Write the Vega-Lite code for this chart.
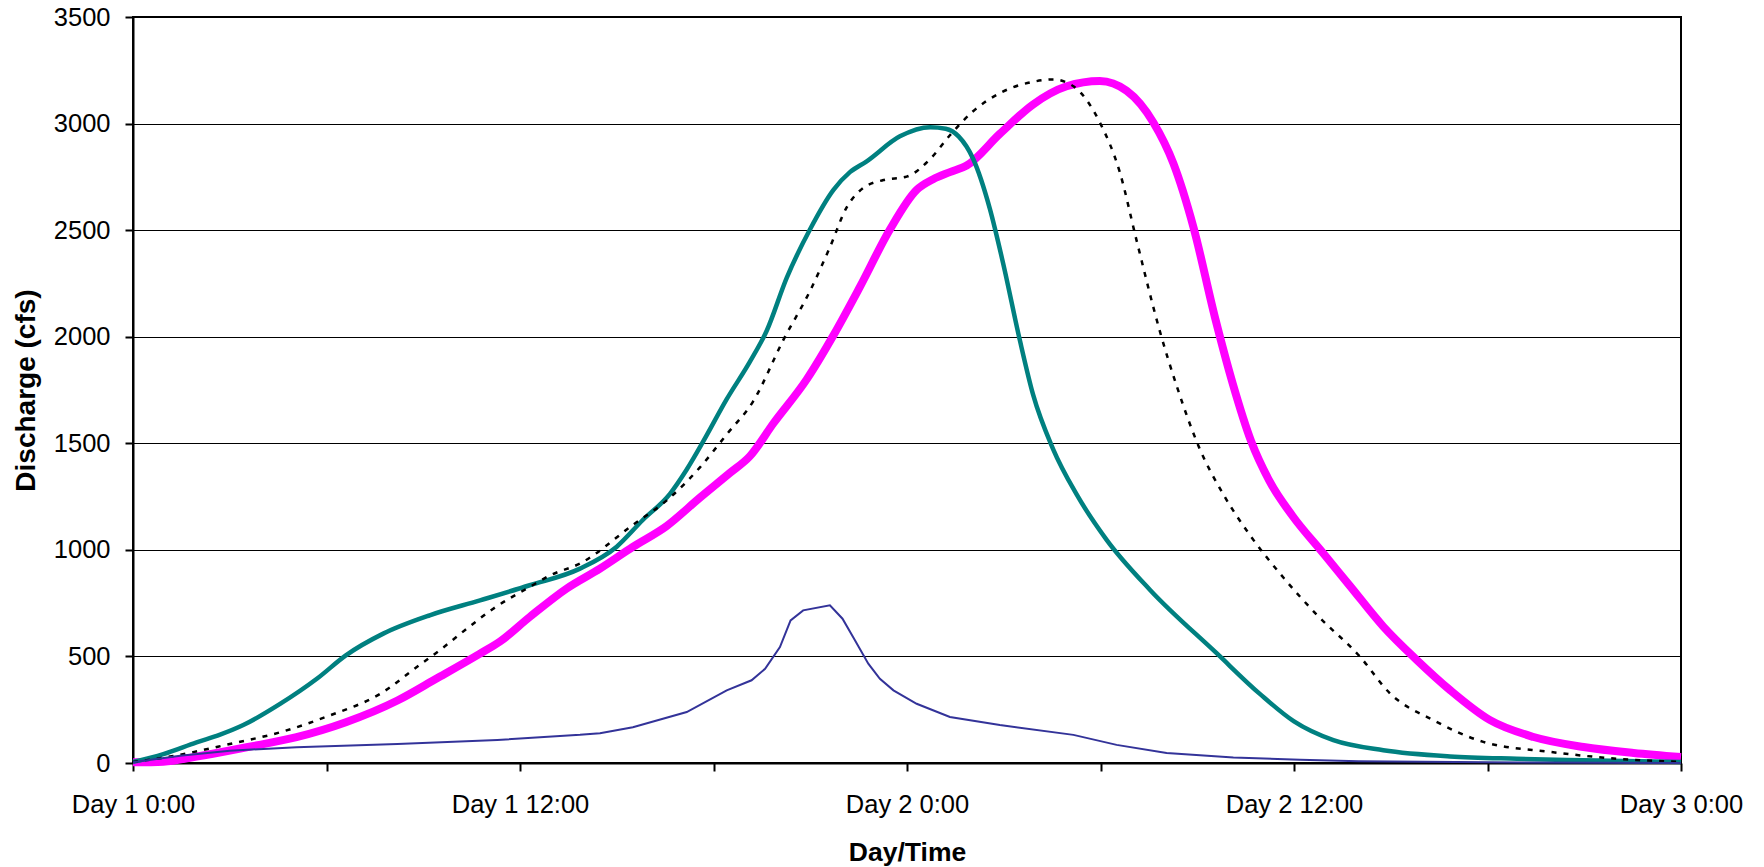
{
  "$schema": "https://vega.github.io/schema/vega-lite/v6.json",
  "width": 1548,
  "height": 746,
  "autosize": "none",
  "padding": {"left": 133, "top": 17, "right": 83, "bottom": 104},
  "background": "white",
  "config": {
    "view": {"stroke": "black", "strokeWidth": 2},
    "axis": {
      "labelFont": "Liberation Sans", "titleFont": "Liberation Sans",
      "labelFontSize": 25.5, "titleFontSize": 26.5, "labelColor": "black", "titleColor": "black",
      "domainColor": "black", "domainWidth": 2, "tickColor": "black", "tickWidth": 2, "tickSize": 8,
      "gridColor": "black", "gridWidth": 1, "gridOpacity": 1
    }
  },
  "datasets": {
    "flows": [
      {"s": "S1", "h": 0, "q": 5}, {"s": "S1", "h": 0.94, "q": 42}, {"s": "S1", "h": 1.97, "q": 97}, {"s": "S1", "h": 2.7, "q": 133}, {"s": "S1", "h": 3.42, "q": 178},
      {"s": "S1", "h": 4.56, "q": 277}, {"s": "S1", "h": 5.7, "q": 395}, {"s": "S1", "h": 6.6, "q": 505}, {"s": "S1", "h": 7.76, "q": 607},
      {"s": "S1", "h": 9.2, "q": 693}, {"s": "S1", "h": 10.76, "q": 763}, {"s": "S1", "h": 12.3, "q": 834}, {"s": "S1", "h": 13.86, "q": 912},
      {"s": "S1", "h": 15.0, "q": 1015}, {"s": "S1", "h": 15.8, "q": 1139}, {"s": "S1", "h": 16.65, "q": 1263}, {"s": "S1", "h": 17.17, "q": 1377},
      {"s": "S1", "h": 17.69, "q": 1511}, {"s": "S1", "h": 18.41, "q": 1707}, {"s": "S1", "h": 19.13, "q": 1883}, {"s": "S1", "h": 19.65, "q": 2028},
      {"s": "S1", "h": 20.27, "q": 2276}, {"s": "S1", "h": 20.99, "q": 2503}, {"s": "S1", "h": 21.72, "q": 2689}, {"s": "S1", "h": 22.23, "q": 2772},
      {"s": "S1", "h": 22.75, "q": 2823}, {"s": "S1", "h": 23.78, "q": 2940}, {"s": "S1", "h": 24.72, "q": 2983}, {"s": "S1", "h": 25.2, "q": 2976},
      {"s": "S1", "h": 25.6, "q": 2940}, {"s": "S1", "h": 26.05, "q": 2835}, {"s": "S1", "h": 26.57, "q": 2600}, {"s": "S1", "h": 26.98, "q": 2345}, {"s": "S1", "h": 27.5, "q": 1983},
      {"s": "S1", "h": 27.91, "q": 1728}, {"s": "S1", "h": 28.53, "q": 1473}, {"s": "S1", "h": 29.26, "q": 1260}, {"s": "S1", "h": 30.19, "q": 1047},
      {"s": "S1", "h": 31.53, "q": 813}, {"s": "S1", "h": 33.6, "q": 515}, {"s": "S1", "h": 34.95, "q": 323}, {"s": "S1", "h": 36.0, "q": 195},
      {"s": "S1", "h": 37.22, "q": 107}, {"s": "S1", "h": 38.77, "q": 60}, {"s": "S1", "h": 40.84, "q": 31}, {"s": "S1", "h": 42.91, "q": 20},
      {"s": "S1", "h": 44.98, "q": 13}, {"s": "S1", "h": 48, "q": 5},

      {"s": "S2", "h": 0, "q": 5}, {"s": "S2", "h": 1.15, "q": 30}, {"s": "S2", "h": 3.0, "q": 89}, {"s": "S2", "h": 4.56, "q": 144},
      {"s": "S2", "h": 6.1, "q": 223}, {"s": "S2", "h": 7.66, "q": 324}, {"s": "S2", "h": 8.8, "q": 450}, {"s": "S2", "h": 9.57, "q": 536},
      {"s": "S2", "h": 10.35, "q": 630}, {"s": "S2", "h": 11.17, "q": 724}, {"s": "S2", "h": 12.3, "q": 826}, {"s": "S2", "h": 12.93, "q": 880},
      {"s": "S2", "h": 13.86, "q": 936}, {"s": "S2", "h": 15.51, "q": 1118}, {"s": "S2", "h": 16.55, "q": 1232}, {"s": "S2", "h": 17.58, "q": 1387},
      {"s": "S2", "h": 18.41, "q": 1542}, {"s": "S2", "h": 19.23, "q": 1697}, {"s": "S2", "h": 20.17, "q": 1986}, {"s": "S2", "h": 20.99, "q": 2214},
      {"s": "S2", "h": 21.61, "q": 2420}, {"s": "S2", "h": 22.13, "q": 2607}, {"s": "S2", "h": 22.65, "q": 2699}, {"s": "S2", "h": 23.27, "q": 2735},
      {"s": "S2", "h": 23.99, "q": 2751}, {"s": "S2", "h": 24.72, "q": 2834}, {"s": "S2", "h": 25.33, "q": 2945}, {"s": "S2", "h": 26.05, "q": 3058},
      {"s": "S2", "h": 26.88, "q": 3143}, {"s": "S2", "h": 27.91, "q": 3196}, {"s": "S2", "h": 28.53, "q": 3207}, {"s": "S2", "h": 29.16, "q": 3175},
      {"s": "S2", "h": 29.98, "q": 3005}, {"s": "S2", "h": 30.6, "q": 2771}, {"s": "S2", "h": 31.12, "q": 2451}, {"s": "S2", "h": 31.84, "q": 2026},
      {"s": "S2", "h": 32.36, "q": 1770}, {"s": "S2", "h": 33.08, "q": 1473}, {"s": "S2", "h": 33.81, "q": 1260}, {"s": "S2", "h": 34.64, "q": 1068},
      {"s": "S2", "h": 35.67, "q": 870}, {"s": "S2", "h": 36.71, "q": 695}, {"s": "S2", "h": 38.05, "q": 498}, {"s": "S2", "h": 38.98, "q": 326},
      {"s": "S2", "h": 40.32, "q": 201}, {"s": "S2", "h": 41.87, "q": 99}, {"s": "S2", "h": 43.95, "q": 52}, {"s": "S2", "h": 46.01, "q": 20},
      {"s": "S2", "h": 48, "q": 5},

      {"s": "S3", "h": 0, "q": 3}, {"s": "S3", "h": 0.94, "q": 6}, {"s": "S3", "h": 1.97, "q": 30}, {"s": "S3", "h": 3.52, "q": 74},
      {"s": "S3", "h": 5.07, "q": 121}, {"s": "S3", "h": 6.6, "q": 191}, {"s": "S3", "h": 8.2, "q": 293}, {"s": "S3", "h": 9.4, "q": 395},
      {"s": "S3", "h": 10.76, "q": 513}, {"s": "S3", "h": 11.38, "q": 570}, {"s": "S3", "h": 12.3, "q": 685}, {"s": "S3", "h": 13.45, "q": 819},
      {"s": "S3", "h": 14.48, "q": 912}, {"s": "S3", "h": 15.51, "q": 1015}, {"s": "S3", "h": 16.55, "q": 1112}, {"s": "S3", "h": 17.58, "q": 1245},
      {"s": "S3", "h": 18.5, "q": 1360}, {"s": "S3", "h": 19.13, "q": 1440}, {"s": "S3", "h": 19.86, "q": 1594}, {"s": "S3", "h": 20.89, "q": 1800}, {"s": "S3", "h": 21.72, "q": 2007},
      {"s": "S3", "h": 22.54, "q": 2234}, {"s": "S3", "h": 23.47, "q": 2503}, {"s": "S3", "h": 24.3, "q": 2689}, {"s": "S3", "h": 24.81, "q": 2739},
      {"s": "S3", "h": 25.33, "q": 2772}, {"s": "S3", "h": 25.85, "q": 2803}, {"s": "S3", "h": 26.88, "q": 2952}, {"s": "S3", "h": 27.91, "q": 3090},
      {"s": "S3", "h": 28.95, "q": 3175}, {"s": "S3", "h": 29.98, "q": 3200}, {"s": "S3", "h": 30.81, "q": 3154}, {"s": "S3", "h": 31.64, "q": 3005},
      {"s": "S3", "h": 32.26, "q": 2813}, {"s": "S3", "h": 32.88, "q": 2515}, {"s": "S3", "h": 33.55, "q": 2090}, {"s": "S3", "h": 34.1, "q": 1780},
      {"s": "S3", "h": 34.67, "q": 1510}, {"s": "S3", "h": 35.25, "q": 1320}, {"s": "S3", "h": 35.95, "q": 1160}, {"s": "S3", "h": 36.9, "q": 985},
      {"s": "S3", "h": 37.74, "q": 830}, {"s": "S3", "h": 38.77, "q": 640}, {"s": "S3", "h": 39.81, "q": 483}, {"s": "S3", "h": 40.84, "q": 342},
      {"s": "S3", "h": 42.08, "q": 201}, {"s": "S3", "h": 43.43, "q": 122}, {"s": "S3", "h": 44.98, "q": 75}, {"s": "S3", "h": 46.53, "q": 47},
      {"s": "S3", "h": 48, "q": 28},

      {"s": "S4", "h": 0, "q": 3}, {"s": "S4", "h": 1.46, "q": 34}, {"s": "S4", "h": 3.0, "q": 58}, {"s": "S4", "h": 5.07, "q": 74},
      {"s": "S4", "h": 8.2, "q": 89}, {"s": "S4", "h": 11.3, "q": 108}, {"s": "S4", "h": 13.86, "q": 132}, {"s": "S4", "h": 14.48, "q": 140},
      {"s": "S4", "h": 15.5, "q": 168}, {"s": "S4", "h": 17.17, "q": 239}, {"s": "S4", "h": 18.41, "q": 341}, {"s": "S4", "h": 19.18, "q": 388},
      {"s": "S4", "h": 19.6, "q": 442}, {"s": "S4", "h": 20.06, "q": 544}, {"s": "S4", "h": 20.39, "q": 669}, {"s": "S4", "h": 20.78, "q": 716},
      {"s": "S4", "h": 21.61, "q": 740}, {"s": "S4", "h": 22.0, "q": 677}, {"s": "S4", "h": 22.39, "q": 575}, {"s": "S4", "h": 22.8, "q": 466},
      {"s": "S4", "h": 23.16, "q": 395}, {"s": "S4", "h": 23.58, "q": 341}, {"s": "S4", "h": 24.3, "q": 278}, {"s": "S4", "h": 25.33, "q": 216},
      {"s": "S4", "h": 26.88, "q": 178}, {"s": "S4", "h": 29.16, "q": 132}, {"s": "S4", "h": 30.5, "q": 85}, {"s": "S4", "h": 32.05, "q": 47},
      {"s": "S4", "h": 34.12, "q": 26}, {"s": "S4", "h": 36.19, "q": 15}, {"s": "S4", "h": 38, "q": 8}, {"s": "S4", "h": 42, "q": 3},
      {"s": "S4", "h": 48, "q": 0}
    ]
  },
  "data": {"name": "flows"},
  "encoding": {
    "x": {
      "field": "h", "type": "quantitative",
      "scale": {"domain": [0, 48], "nice": false, "zero": false},
      "axis": {
        "values": [0, 6, 12, 18, 24, 30, 36, 42, 48],
        "labelExpr": "datum.value % 12 == 0 ? 'Day ' + (floor(datum.value / 24) + 1) + ' ' + (datum.value % 24) + ':00' : ''",
        "grid": false, "title": "Day/Time", "labelPadding": 21, "titlePadding": 22,
        "labelFlush": false, "labelOverlap": false
      }
    },
    "y": {
      "field": "q", "type": "quantitative",
      "scale": {"domain": [0, 3500], "nice": false},
      "axis": {
        "values": [0, 500, 1000, 1500, 2000, 2500, 3000, 3500],
        "format": "d",
        "grid": true, "title": "Discharge (cfs)", "titleFontSize": 28,
        "labelPadding": 15, "titlePadding": 13
      }
    }
  },
  "layer": [
    {
      "transform": [{"filter": "datum.s == 'S3'"}],
      "mark": {"type": "line", "color": "#FF00FF", "strokeWidth": 8, "interpolate": "monotone"}
    },
    {
      "transform": [{"filter": "datum.s == 'S1'"}],
      "mark": {"type": "line", "color": "#008080", "strokeWidth": 4.5, "interpolate": "monotone"}
    },
    {
      "transform": [{"filter": "datum.s == 'S2'"}],
      "mark": {"type": "line", "color": "black", "strokeWidth": 2.5, "strokeDash": [5, 7], "interpolate": "monotone"}
    },
    {
      "transform": [{"filter": "datum.s == 'S4'"}],
      "mark": {"type": "line", "color": "#333399", "strokeWidth": 2, "interpolate": "linear"}
    }
  ]
}
